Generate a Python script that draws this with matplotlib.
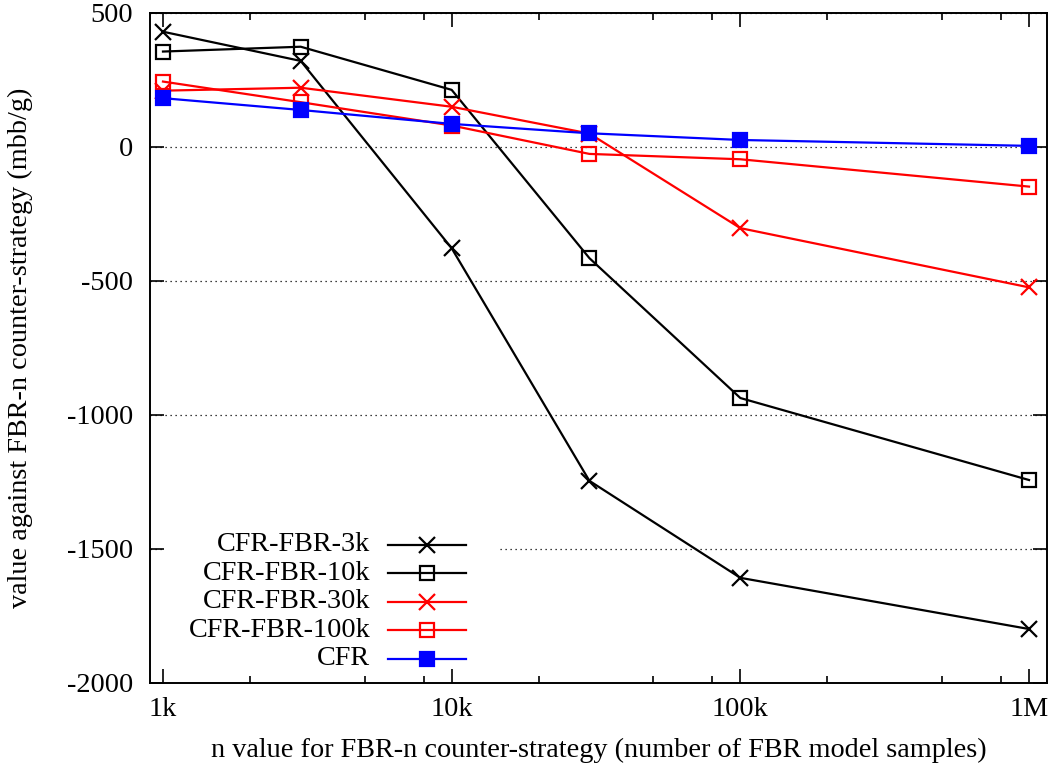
import numpy as np
import matplotlib.pyplot as plt
from matplotlib.ticker import FixedLocator, NullFormatter
from matplotlib.patches import Rectangle

plt.rcParams['font.family'] = ['Liberation Serif', 'DejaVu Serif']

# n values (FBR model samples)
n = [1e3, 3e3, 1e4, 3e4, 1e5, 1e6]
xtick_vals = [1e3, 1e4, 1e5, 1e6]
xtick_labels = ['1k', '10k', '100k', '1M']

# values in mbb/g
fbr3k = [430, 321, -378, -1246, -1608, -1799]
fbr10k = [356, 374, 213, -415, -937, -1243]
fbr30k = [210, 221, 150, 50, -303, -524]
fbr100k = [244, 167, 80, -26, -46, -148]
cfr = [182, 138, 86, 51, 26, 4]

names = ['CFR-FBR-3k', 'CFR-FBR-10k', 'CFR-FBR-30k', 'CFR-FBR-100k', 'CFR']
series = [fbr3k, fbr10k, fbr30k, fbr100k, cfr]
colors = ['black', 'black', 'red', 'red', 'blue']
markers = ['x', 's', 'x', 's', 's']
filled = [True, False, True, False, True]

FS = 20.3

fig = plt.figure(figsize=(10.53, 7.76), dpi=100)
ax = fig.add_axes([0.1425, 0.12, 0.8518, 0.8633])

def style(i):
    kw = dict(color=colors[i], lw=1.6, marker=markers[i], mew=1.6)
    if markers[i] == 'x':
        kw['ms'] = 12
    else:
        kw['ms'] = 10.5
        kw['mfc'] = colors[i] if filled[i] else 'none'
    return kw

for i, ys in enumerate(series):
    ax.plot(n, ys, zorder=3 + i, **style(i))

ax.set_xscale('log')
ax.set_xlim(902, 1.154e6)
ax.set_ylim(-2000, 500)
ax.set_yticks([500, 0, -500, -1000, -1500, -2000])
ax.set_yticklabels(['500', '0', '-500', '-1000', '-1500', '-2000'])
ax.xaxis.set_major_locator(FixedLocator(xtick_vals))
ax.set_xticklabels(xtick_labels)
minors = [m * d for d in [1e3, 1e4, 1e5] for m in (2, 5, 8)]
ax.xaxis.set_minor_locator(FixedLocator(minors))
ax.xaxis.set_minor_formatter(NullFormatter())

ax.tick_params(which='both', direction='in', top=True, right=True, labelsize=FS, width=1.2)
ax.tick_params(which='major', length=10)
ax.tick_params(which='minor', length=5)
ax.tick_params(axis='x', which='major', pad=10)
ax.tick_params(axis='y', which='major', pad=12)
for s in ax.spines.values():
    s.set_linewidth(1.4)

ax.yaxis.grid(True, linestyle=(0, (1, 3)), color='black', lw=0.9)
ax.set_axisbelow(True)

ax.set_xlabel('n value for FBR-n counter-strategy (number of FBR model samples)', fontsize=FS)
ax.set_ylabel('value against FBR-n counter-strategy (mbb/g)', fontsize=FS)
ax.xaxis.set_label_coords(0.5, -0.082)
ax.yaxis.set_label_coords(-0.131, 0.5)

# legend, gnuplot style: text right-aligned, sample to the right
ax.add_patch(Rectangle((0.015, 0.03), 0.375, 0.205, transform=ax.transAxes,
                       facecolor='white', edgecolor='none', zorder=2))
x_text = (370 - 150) / 896
x0, x1 = (388 - 150) / 896, (466 - 150) / 896
for i, nm in enumerate(names):
    ypix = 545 + i * 28.5
    yy = (683 - ypix) / 670
    ax.text(x_text, yy, nm, transform=ax.transAxes, ha='right', va='center',
            fontsize=FS, zorder=10)
    ax.plot([x0, x1], [yy, yy], transform=ax.transAxes, color=colors[i], lw=1.6, zorder=10)
    kw = style(i)
    kw.pop('lw')
    ax.plot([(x0 + x1) / 2], [yy], transform=ax.transAxes, ls='none', zorder=11, **kw)

fig.savefig('out.png', dpi=100)
